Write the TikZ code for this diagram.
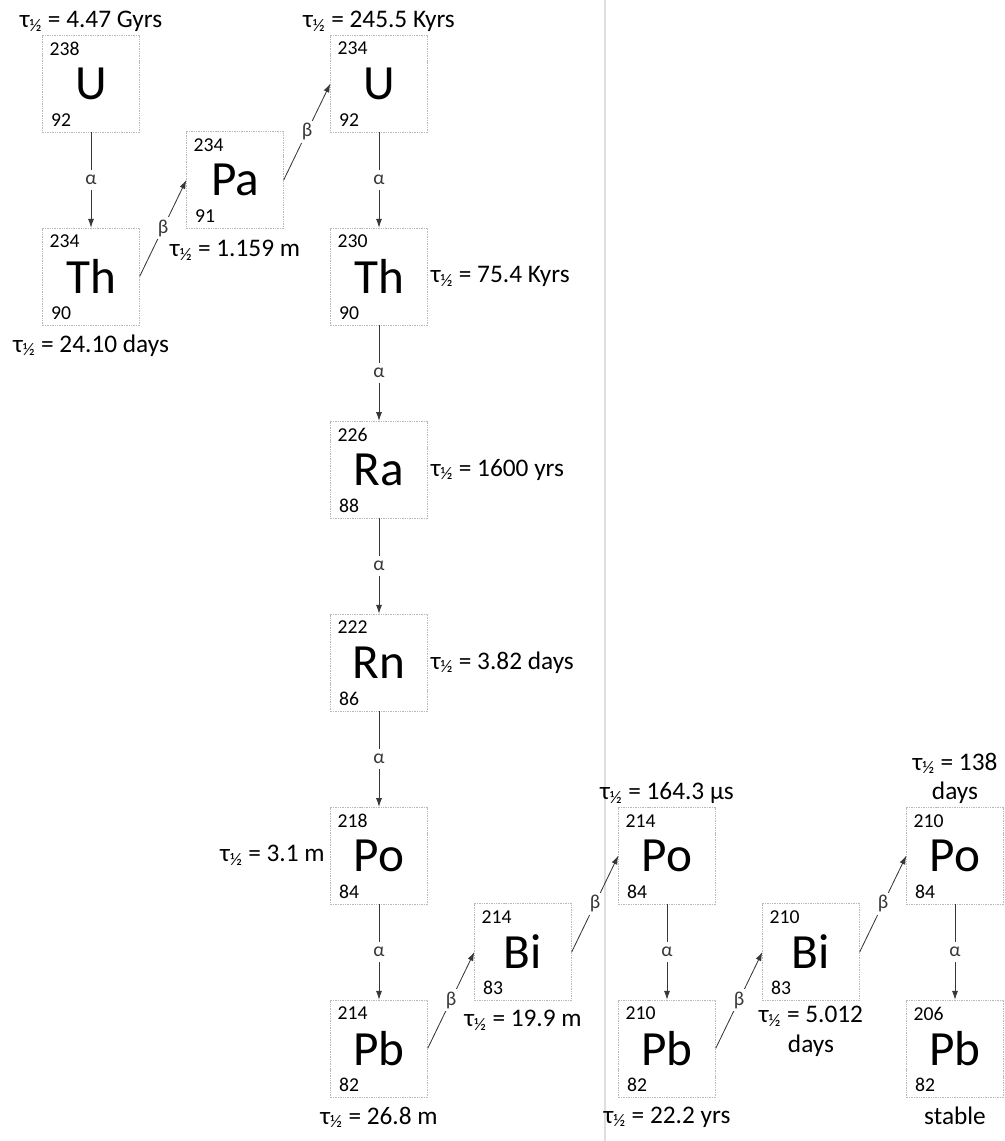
\documentclass[tikz,border=0pt]{standalone}
\usepackage{fontspec}
\setmainfont{Carlito}
\usepackage{xcolor}
\usetikzlibrary{arrows.meta,positioning}
\definecolor{boxgray}{RGB}{185,185,185}
\definecolor{arrowgray}{RGB}{55,55,55}
\definecolor{foldgray}{RGB}{222,222,222}
\newcommand{\thalf}{τ\textsubscript{½}}

\begin{document}
\begin{tikzpicture}[
  nuc/.style={draw=boxgray,dash pattern=on 1pt off 0.7pt,line width=0.4pt,
              minimum size=2.42cm,inner sep=0pt,font=\fontsize{35}{35}\selectfont},
  mass/.style={anchor=north west,inner sep=0pt,font=\fontsize{14}{14}\selectfont},
  charge/.style={anchor=south west,inner sep=0pt,font=\fontsize{14}{14}\selectfont},
  hl/.style={inner sep=1pt,align=center,font=\fontsize{18}{21}\selectfont},
  decay/.style={arrowgray,line width=0.6pt,-{Latex[length=2.2mm,width=1.5mm]}},
  mode/.style={fill=white,inner sep=4pt,font=\fontsize{14}{14}\selectfont}
]
\useasboundingbox (0,0) rectangle (25.125,-28.525);

% fold of the scanned page
\draw[foldgray,line width=0.8pt] (15.125,0) -- (15.125,-28.525);

% ---------------- nuclides ----------------
\foreach \n/\x/\y/\A/\Z/\s in {
  U238/2.275/-2.09/238/92/U, Th234/2.275/-6.91/234/90/Th,
  Pa234/5.875/-4.50/234/91/Pa, U234/9.475/-2.09/234/92/U,
  Th230/9.475/-6.91/230/90/Th, Ra226/9.475/-11.74/226/88/Ra,
  Rn222/9.475/-16.56/222/86/Rn, Po218/9.475/-21.39/218/84/Po,
  Pb214/9.475/-26.21/214/82/Pb, Bi214/13.075/-23.80/214/83/Bi,
  Po214/16.675/-21.39/214/84/Po, Pb210/16.675/-26.21/210/82/Pb,
  Bi210/20.275/-23.80/210/83/Bi, Po210/23.875/-21.39/210/84/Po,
  Pb206/23.875/-26.21/206/82/Pb}{
  \node[nuc] (\n) at (\x,\y) {\s};
  \node[mass] (\n-A) at ([xshift=5pt,yshift=-5pt]\n.north west) {\A};
  \node[charge] (\n-Z) at ([xshift=6pt,yshift=4pt]\n.south west) {\Z};
}

% ---------------- decays ----------------
\foreach \a/\b in {U238/Th234,U234/Th230,Th230/Ra226,Ra226/Rn222,
                   Rn222/Po218,Po218/Pb214,Po214/Pb210,Po210/Pb206}{
  \draw[decay] (\a) -- node[mode] (\a-\b) {α} (\b);
}
\foreach \a/\b in {Th234/Pa234,Pa234/U234,Pb214/Bi214,Bi214/Po214,
                   Pb210/Bi210,Bi210/Po210}{
  \draw[decay] (\a.east) -- node[mode,inner sep=2pt] (\a-\b) {β} (\b.west);
}

% ---------------- half-lives ----------------
\node[hl,above=1pt of U238] (U238-t) {\thalf{} = 4.47 Gyrs};
\node[hl,below=0.2cm of Th234] (Th234-t) {\thalf{} = 24.10 days};
\node[hl,below=0.25cm of Pa234] (Pa234-t) {\thalf{} = 1.159 m};
\node[hl,above=1pt of U234] (U234-t) {\thalf{} = 245.5 Kyrs};
\node[hl,right=1pt of Th230] (Th230-t) {\thalf{} = 75.4 Kyrs};
\node[hl,right=1pt of Ra226] (Ra226-t) {\thalf{} = 1600 yrs};
\node[hl,right=1pt of Rn222] (Rn222-t) {\thalf{} = 3.82 days};
\node[hl,left=0.1cm of Po218] (Po218-t) {\thalf{} = 3.1 m};
\node[hl,below=0.2cm of Pb214] (Pb214-t) {\thalf{} = 26.8 m};
\node[hl,below=0.2cm of Bi214] (Bi214-t) {\thalf{} = 19.9 m};
\node[hl,above=1pt of Po214] (Po214-t) {\thalf{} = 164.3 µs};
\node[hl,below=0.2cm of Pb210] (Pb210-t) {\thalf{} = 22.2 yrs};
\node[hl,below=0.1cm of Bi210] (Bi210-t) {\thalf{} = 5.012\\days};
\node[hl,above=1pt of Po210] (Po210-t) {\thalf{} = 138\\days};
\node[hl,below=0.2cm of Pb206] (Pb206-t) {stable};

\end{tikzpicture}
\end{document}
